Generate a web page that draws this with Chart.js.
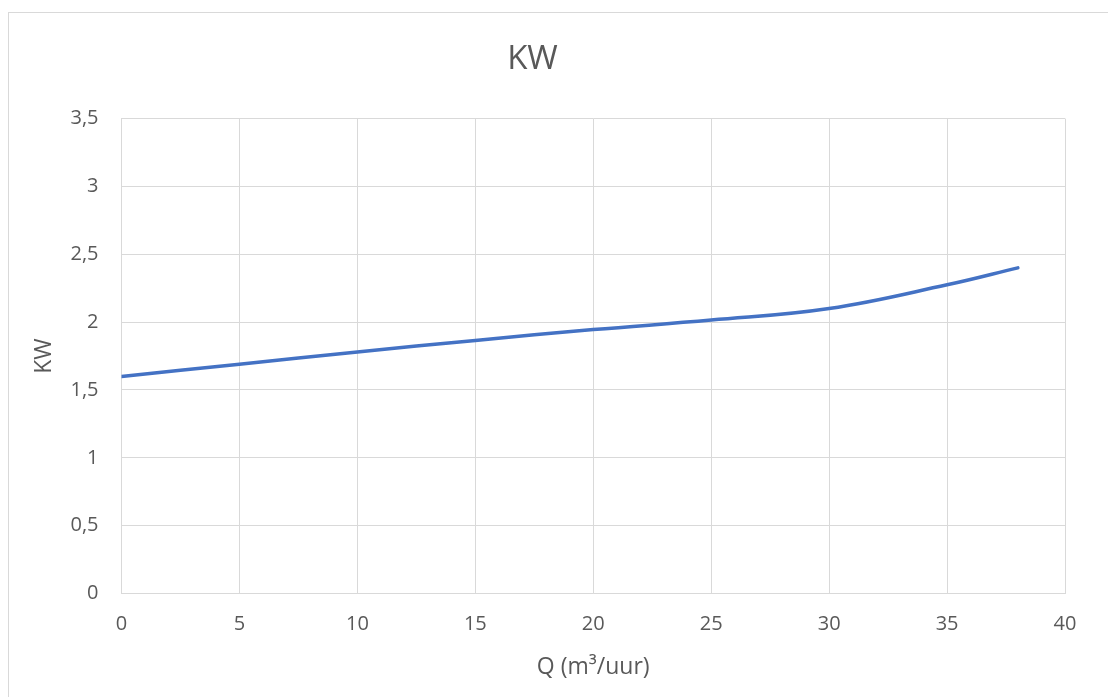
<!DOCTYPE html>
<html>
<head>
<meta charset="utf-8">
<script src="https://cdn.jsdelivr.net/npm/chart.js@4/dist/chart.umd.min.js"></script>
<style>
    html, body { margin: 0; padding: 0; background: #fff; overflow: hidden; }
    #frame { position: absolute; left: 8px; top: 12px; width: 1300px; height: 900px; border: 1px solid #d9d9d9; }
    #kwChart { position: absolute; left: 0; top: 0; }
</style>
</head>
<body>
<div id="frame"></div>
<canvas id="kwChart" width="1108" height="697"></canvas>
<script>
// データ
const flowValues = [0, 5, 10, 15, 20, 25, 30, 35, 38];
const kwValues = [1.6, 1.69, 1.78, 1.865, 1.945, 2.015, 2.1, 2.275, 2.4];
const xTicks = [0, 5, 10, 15, 20, 25, 30, 35, 40];
const yTicks = [0, 0.5, 1, 1.5, 2, 2.5, 3, 3.5];

const textColor = '#595959';
const gridColor = '#d9d9d9';
const fontFamily = "'Open Sans', 'Liberation Sans', sans-serif";

const points = flowValues.map((q, i) => ({ x: q, y: kwValues[i] }));

const ctx = document.getElementById('kwChart').getContext('2d');
new Chart(ctx, {
    type: 'line',
    data: {
        datasets: [{
            label: 'KW',
            data: points,
            borderColor: '#4472C4',
            borderWidth: 3.5,
            pointRadius: 0,
            fill: false,
            tension: 0.4,
            borderCapStyle: 'round'
        }]
    },
    options: {
        responsive: false,
        animation: false,
        layout: { padding: { left: 0, right: 43, top: 40, bottom: 0 } },
        plugins: {
            legend: { display: false },
            tooltip: { enabled: false },
            title: {
                display: true,
                text: 'KW',
                color: textColor,
                font: { family: fontFamily, size: 33, weight: 'normal' },
                padding: { top: 0, bottom: 39 }
            }
        },
        scales: {
            x: {
                type: 'linear',
                min: 0,
                max: 40,
                afterBuildTicks: axis => { axis.ticks = xTicks.map(v => ({ value: v })); },
                grid: { color: gridColor, drawTicks: false },
                border: { color: gridColor },
                ticks: {
                    color: textColor,
                    padding: 19,
                    font: { family: fontFamily, size: 20 }
                },
                title: {
                    display: true,
                    text: 'Q (m³/uur)',
                    color: textColor,
                    font: { family: fontFamily, size: 23 },
                    padding: { top: 0, bottom: 16 }
                },
                afterFit: axis => { axis.height = 697 - 593.5; }
            },
            y: {
                min: 0,
                max: 3.5,
                afterBuildTicks: axis => { axis.ticks = yTicks.map(v => ({ value: v })); },
                grid: { color: gridColor, drawTicks: false },
                border: { color: gridColor },
                ticks: {
                    color: textColor,
                    padding: 23,
                    font: { family: fontFamily, size: 20 },
                    callback: v => String(v).replace('.', ',')
                },
                title: {
                    display: true,
                    text: 'KW',
                    color: textColor,
                    font: { family: fontFamily, size: 23 },
                    padding: { top: 31, bottom: 0 }
                },
                afterFit: axis => { axis.width = 121.5; }
            }
        }
    }
});
</script>
</body>
</html>
